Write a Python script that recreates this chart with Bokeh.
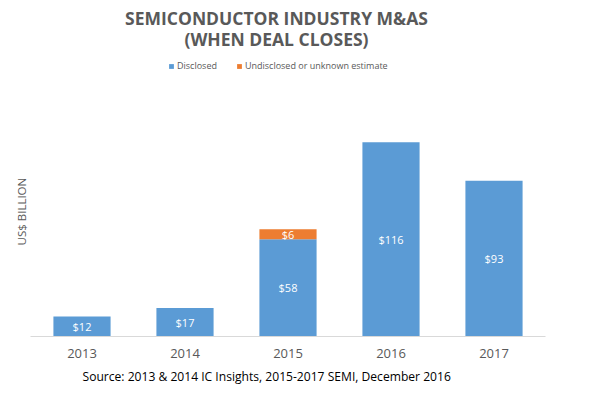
from bokeh.plotting import figure
from bokeh.models import ColumnDataSource, Label, Legend, LegendItem, Range1d, FactorRange, Title
from bokeh.core.properties import value
from bokeh.embed import file_html
from bokeh.resources import INLINE

years = ["2013", "2014", "2015", "2016", "2017"]
disclosed = [12, 17, 58, 116, 93]
undisclosed = [0, 0, 6, 0, 0]

title_lines = ["SEMICONDUCTOR INDUSTRY M&AS", "(WHEN DEAL CLOSES)"]
series_names = ["Disclosed", "Undisclosed or unknown estimate"]
y_label = "US$ BILLION"
source_text = "Source: 2013 & 2014 IC Insights, 2015-2017 SEMI, December 2016"

BLUE = "#5B9BD5"
ORANGE = "#ED7D31"
GREY = "#595959"
FONT = "Open Sans"

src = ColumnDataSource(dict(year=years, disclosed=disclosed, undisclosed=undisclosed))

p = figure(width=590, height=390, x_range=FactorRange(*years, range_padding=0),
           y_range=Range1d(0, 195.8), output_backend="svg", toolbar_location=None,
           min_border_left=30, min_border_right=45, min_border_top=8, min_border_bottom=54)
p.outline_line_color = None
p.grid.visible = False
p.yaxis.visible = False
p.background_fill_color = "white"

r = p.vbar_stack(["disclosed", "undisclosed"], x="year", width=0.555, color=[BLUE, ORANGE],
                 line_color=None, source=src)

# data labels
lab_d = ColumnDataSource(dict(
    x=years, y=[v / 2 for v in disclosed], t=["$%d" % v for v in disclosed]))
p.text(x="x", y="y", text="t", source=lab_d, text_color="white", text_font=value(FONT),
       text_font_size="11px", text_align="center", text_baseline="middle")
ux = [y for y, u in zip(years, undisclosed) if u > 0]
uy = [d + u / 2 for d, u in zip(disclosed, undisclosed) if u > 0]
ut = ["$%d" % u for u in undisclosed if u > 0]
lab_u = ColumnDataSource(dict(x=ux, y=uy, t=ut))
p.text(x="x", y="y", text="t", source=lab_u, text_color="white", text_font=value(FONT),
       text_font_size="11px", text_align="center", text_baseline="middle")

ax = p.xaxis[0]
ax.axis_line_color = "#d9d9d9"
ax.axis_line_width = 1
ax.major_tick_line_color = None
ax.minor_tick_line_color = None
ax.major_label_text_font = FONT
ax.major_label_text_font_size = "13px"
ax.major_label_text_color = GREY
ax.major_label_standoff = 6

# legend
legend = Legend(items=[LegendItem(label=series_names[0], renderers=[r[0]]),
                       LegendItem(label=series_names[1], renderers=[r[1]])],
                orientation="horizontal", location=(138, 264), label_text_font=FONT,
                label_text_font_size="9px", label_text_color=GREY, glyph_width=6,
                glyph_height=6, label_standoff=3, spacing=19, padding=0, margin=0,
                border_line_color=None, background_fill_alpha=0)
p.add_layout(legend)

# title
for i, t in enumerate(title_lines):
    p.add_layout(Label(x=246, y=319 - 21 * i, x_units="screen", y_units="screen", text=t,
                       text_font=FONT, text_font_style="bold", text_font_size="17.5px",
                       text_color=GREY, text_align="center", text_baseline="middle"))

p.add_layout(Title(text=y_label, align="left", offset=91, text_font=FONT,
                   text_font_size="11.5px", text_font_style="normal", text_color=GREY,
                   standoff=4), "left")

p.add_layout(Title(text=source_text, align="left", offset=52, text_font=FONT,
                   text_font_size="12.1px", text_font_style="normal", text_color="black",
                   standoff=11), "below")

open("out.html", "w").write(file_html(p, INLINE))
